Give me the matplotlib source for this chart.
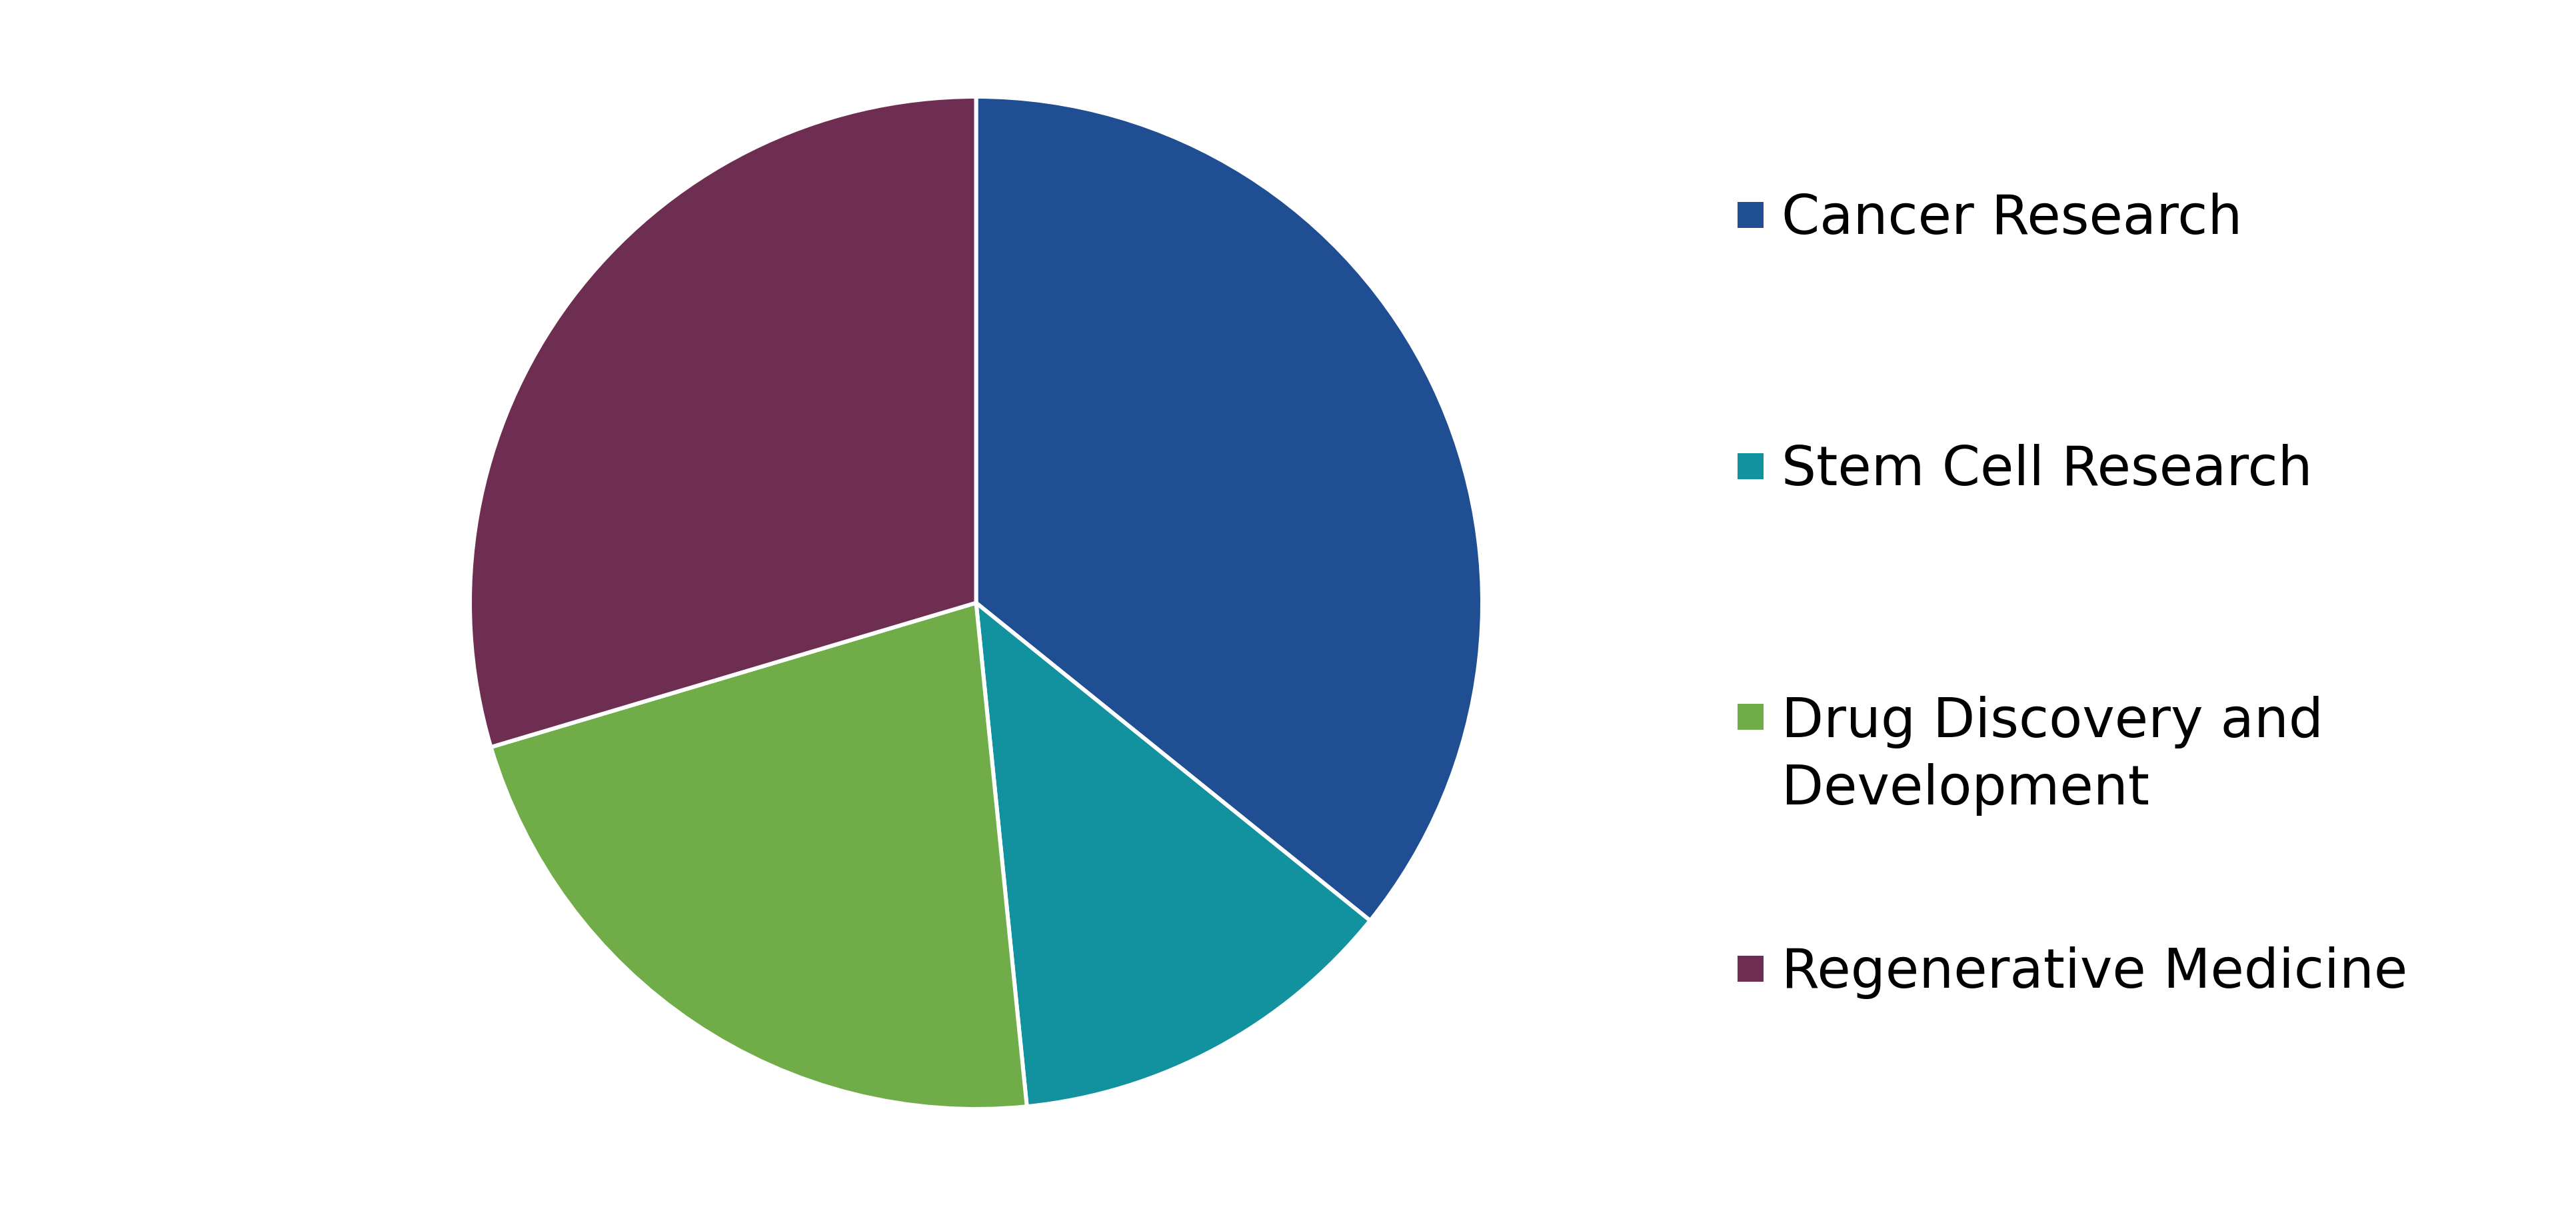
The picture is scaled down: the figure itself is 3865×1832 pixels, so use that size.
import matplotlib
matplotlib.use("Agg")
import matplotlib.pyplot as plt
from matplotlib.patches import Rectangle

categories = ["Cancer Research", "Stem Cell Research",
              "Drug Discovery and\nDevelopment", "Regenerative Medicine"]
values = [35.8, 12.6, 22.0, 29.6]
colors = ["#1F4E93", "#12919E", "#70AC47", "#6E2E51"]

W, H = 3866, 1832
DPI = 100
fig = plt.figure(figsize=(W / DPI, H / DPI), dpi=DPI)
fig.patch.set_facecolor("white")

# pie axes (pixel layout)
cx, cy, r = 1464.5, 904.5, 759.5
ax = fig.add_axes([(cx - r) / W, (H - cy - r) / H, 2 * r / W, 2 * r / H])
ax.pie(values, colors=colors, startangle=90, counterclock=False, radius=1,
       wedgeprops=dict(edgecolor="white", linewidth=4.3))
ax.set_xlim(-1, 1)
ax.set_ylim(-1, 1)
ax.set_aspect("equal")
ax.axis("off")

# legend (manual layout, pixel positions from top)
first_baselines = [351, 728, 1104, 1482]
line_step = 103
marker_x, marker_size, text_x = 2607, 39, 2673
for cat, col, b in zip(categories, colors, first_baselines):
    fig.patches.append(Rectangle((marker_x / W, (H - b + 9) / H),
                                 marker_size / W, marker_size / H,
                                 transform=fig.transFigure, facecolor=col,
                                 edgecolor="none"))
    nlines = cat.count("\n") + 1
    last_b = b + line_step * (nlines - 1)
    fig.text(text_x / W, (H - last_b) / H, cat, fontsize=59,
             family="DejaVu Sans", ha="left", va="baseline", color="black",
             linespacing=1.35)

fig.savefig("out.png", dpi=DPI, facecolor="white")
